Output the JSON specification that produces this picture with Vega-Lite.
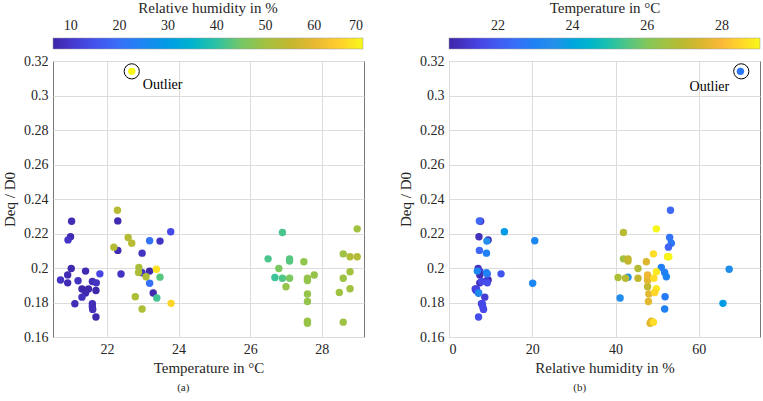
{
  "$schema": "https://vega.github.io/schema/vega-lite/v6.json",
  "padding": {"left": 2, "top": 0, "right": 1, "bottom": 2},
  "autosize": {"type": "pad"},
  "config": {
    "font": "Liberation Serif",
    "view": {"stroke": "#777777", "strokeWidth": 1},
    "axis": {"labelFont": "Liberation Serif", "labelFontSize": 14, "labelColor": "#262626", "titleFont": "Liberation Serif", "titleFontSize": 15, "titleFontWeight": "normal", "titleColor": "#262626", "grid": true, "gridColor": "#dcdcdc", "gridWidth": 1, "domain": false, "ticks": false, "labelPadding": 5, "tickCount": 20, "labelOverlap": false},
    "legend": {"labelFont": "Liberation Serif", "labelFontSize": 14, "labelColor": "#262626", "titleFont": "Liberation Serif", "titleFontSize": 15, "titleFontWeight": "normal", "titleColor": "#262626"},
    "title": {"font": "Liberation Serif", "fontSize": 11, "fontWeight": "normal", "color": "#262626"}
  },
  "datasets": {
    "pts": [
      {"T": 21.01, "RH": 7.6, "D": 0.2271},
      {"T": 22.30, "RH": 7.3, "D": 0.2273},
      {"T": 20.98, "RH": 7.2, "D": 0.2181},
      {"T": 20.91, "RH": 9.4, "D": 0.2163},
      {"T": 23.48, "RH": 9.1, "D": 0.2156},
      {"T": 23.78, "RH": 13.3, "D": 0.2210},
      {"T": 23.19, "RH": 20.6, "D": 0.2158},
      {"T": 22.30, "RH": 7.3, "D": 0.2102},
      {"T": 22.98, "RH": 9.0, "D": 0.2086},
      {"T": 21.00, "RH": 7.0, "D": 0.1997},
      {"T": 21.40, "RH": 7.4, "D": 0.1982},
      {"T": 21.80, "RH": 12.5, "D": 0.1966},
      {"T": 20.70, "RH": 9.4, "D": 0.1930},
      {"T": 20.90, "RH": 7.4, "D": 0.1960},
      {"T": 20.90, "RH": 7.4, "D": 0.1914},
      {"T": 21.19, "RH": 9.0, "D": 0.1926},
      {"T": 21.59, "RH": 7.8, "D": 0.1922},
      {"T": 21.70, "RH": 9.2, "D": 0.1914},
      {"T": 21.69, "RH": 6.5, "D": 0.1870},
      {"T": 21.30, "RH": 6.3, "D": 0.1878},
      {"T": 21.48, "RH": 6.6, "D": 0.1878},
      {"T": 21.40, "RH": 7.1, "D": 0.1855},
      {"T": 21.30, "RH": 8.6, "D": 0.1831},
      {"T": 21.10, "RH": 7.8, "D": 0.1793},
      {"T": 21.59, "RH": 8.0, "D": 0.1793},
      {"T": 21.59, "RH": 8.1, "D": 0.1775},
      {"T": 21.60, "RH": 8.3, "D": 0.1760},
      {"T": 21.69, "RH": 7.1, "D": 0.1716},
      {"T": 22.39, "RH": 9.2, "D": 0.1965},
      {"T": 22.98, "RH": 9.0, "D": 0.1972},
      {"T": 23.19, "RH": 6.8, "D": 0.1982},
      {"T": 23.19, "RH": 20.1, "D": 0.1912},
      {"T": 23.29, "RH": 7.1, "D": 0.1855},
      {"T": 22.29, "RH": 53.2, "D": 0.2335},
      {"T": 22.59, "RH": 53.0, "D": 0.2177},
      {"T": 22.69, "RH": 53.4, "D": 0.2144},
      {"T": 22.19, "RH": 52.7, "D": 0.2121},
      {"T": 22.89, "RH": 51.0, "D": 0.2003},
      {"T": 22.88, "RH": 51.8, "D": 0.1974},
      {"T": 23.09, "RH": 52.2, "D": 0.1949},
      {"T": 23.38, "RH": 67.3, "D": 0.1993},
      {"T": 23.48, "RH": 43.0, "D": 0.1947},
      {"T": 23.39, "RH": 41.1, "D": 0.1826},
      {"T": 22.79, "RH": 51.9, "D": 0.1833},
      {"T": 23.79, "RH": 65.8, "D": 0.1795},
      {"T": 22.98, "RH": 51.8, "D": 0.1762},
      {"T": 22.69, "RH": 70.0, "D": 0.3140},
      {"T": 26.90, "RH": 41.9, "D": 0.2206},
      {"T": 26.50, "RH": 41.9, "D": 0.2053},
      {"T": 27.10, "RH": 43.0, "D": 0.2053},
      {"T": 27.10, "RH": 43.0, "D": 0.2040},
      {"T": 27.50, "RH": 47.4, "D": 0.2036},
      {"T": 26.80, "RH": 45.4, "D": 0.1997},
      {"T": 26.69, "RH": 40.6, "D": 0.1945},
      {"T": 26.90, "RH": 42.4, "D": 0.1941},
      {"T": 27.10, "RH": 45.4, "D": 0.1941},
      {"T": 27.00, "RH": 47.7, "D": 0.1891},
      {"T": 27.60, "RH": 47.7, "D": 0.1941},
      {"T": 27.60, "RH": 47.7, "D": 0.1928},
      {"T": 27.79, "RH": 47.7, "D": 0.1959},
      {"T": 27.60, "RH": 48.0, "D": 0.1849},
      {"T": 27.60, "RH": 47.9, "D": 0.1806},
      {"T": 27.60, "RH": 48.6, "D": 0.1692},
      {"T": 27.60, "RH": 48.3, "D": 0.1680},
      {"T": 28.99, "RH": 49.8, "D": 0.2227},
      {"T": 28.60, "RH": 49.1, "D": 0.2082},
      {"T": 28.79, "RH": 52.5, "D": 0.2065},
      {"T": 28.99, "RH": 52.8, "D": 0.2065},
      {"T": 28.79, "RH": 49.8, "D": 0.1978},
      {"T": 28.60, "RH": 49.2, "D": 0.1941},
      {"T": 28.79, "RH": 49.8, "D": 0.1880},
      {"T": 28.49, "RH": 49.4, "D": 0.1858},
      {"T": 28.60, "RH": 49.1, "D": 0.1686}
    ],
    "ann": [
      {"panel": "a", "kind": "ring", "T": 22.69, "D": 0.3140},
      {"panel": "a", "kind": "label", "T": 23.0, "D": 0.3059, "label": "Outlier"},
      {"panel": "b", "kind": "ring", "RH": 70.2, "D": 0.3140},
      {"panel": "b", "kind": "label", "RH": 67.3, "D": 0.3052, "label": "Outlier"}
    ]
  },
  "hconcat": [
    {
      "width": 311,
      "height": 276,
      "title": {"text": "(a)", "orient": "bottom", "frame": "bounds", "anchor": "middle", "offset": 7},
      "layer": [
        {
          "data": {"name": "pts"},
          "mark": {"type": "point", "filled": true, "size": 55, "opacity": 1},
          "encoding": {
            "x": {"field": "T", "type": "quantitative", "scale": {"domain": [20.49, 29.18], "nice": false, "zero": false}, "axis": {"values": [22, 24, 26, 28], "format": "d", "title": "Temperature in °C"}},
            "y": {"field": "D", "type": "quantitative", "scale": {"domain": [0.16, 0.32], "nice": false, "zero": false}, "axis": {"values": [0.16, 0.18, 0.2, 0.22, 0.24, 0.26, 0.28, 0.3, 0.32], "format": ".2~f", "title": "Deq / D0", "titlePadding": 6}},
            "color": {
              "field": "RH", "type": "quantitative",
              "scale": {"domain": [6.37, 12.73, 19.1, 28.64, 35.64, 40.73, 46.5, 55.99, 62.36, 70.0], "range": ["#3e26a8", "#4745e6", "#3f6bf8", "#2a93e8", "#06b7c9", "#3cc39a", "#8cc652", "#c8b52c", "#fdb93a", "#f7f81a"], "clamp": true, "nice": false, "zero": false},
              "legend": {"title": "Relative humidity in %", "orient": "top", "direction": "horizontal", "gradientLength": 310, "gradientThickness": 11, "gradientStrokeColor": "#999999", "gradientStrokeWidth": 0.5, "values": [10, 20, 30, 40, 50, 60, 70], "format": "d", "labelAlign": "center", "labelOffset": -30, "titlePadding": 22, "offset": 11, "titleAnchor": "middle"}
            }
          }
        },
        {
          "data": {"name": "ann"},
          "transform": [{"filter": "datum.panel == 'a' && datum.kind == 'ring'"}],
          "mark": {"type": "point", "filled": false, "size": 230, "stroke": "#000000", "strokeWidth": 1, "opacity": 1},
          "encoding": {"x": {"field": "T", "type": "quantitative"}, "y": {"field": "D", "type": "quantitative"}}
        },
        {
          "data": {"name": "ann"},
          "transform": [{"filter": "datum.panel == 'a' && datum.kind == 'label'"}],
          "mark": {"type": "text", "align": "left", "baseline": "middle", "fontSize": 14, "font": "Liberation Serif", "color": "#000000"},
          "encoding": {"x": {"field": "T", "type": "quantitative"}, "y": {"field": "D", "type": "quantitative"}, "text": {"field": "label"}}
        }
      ]
    },
    {
      "width": 311,
      "height": 276,
      "title": {"text": "(b)", "orient": "bottom", "frame": "bounds", "anchor": "middle", "offset": 7},
      "layer": [
        {
          "data": {"name": "pts"},
          "mark": {"type": "point", "filled": true, "size": 55, "opacity": 1},
          "encoding": {
            "x": {"field": "RH", "type": "quantitative", "scale": {"domain": [0, 74.7], "nice": false, "zero": false}, "axis": {"values": [0, 20, 40, 60], "format": "d", "title": "Relative humidity in %"}},
            "y": {"field": "D", "type": "quantitative", "scale": {"domain": [0.16, 0.32], "nice": false, "zero": false}, "axis": {"values": [0.16, 0.18, 0.2, 0.22, 0.24, 0.26, 0.28, 0.3, 0.32], "format": ".2~f", "title": "Deq / D0", "titlePadding": 6}},
            "color": {
              "field": "T", "type": "quantitative",
              "scale": {"domain": [20.69, 21.52, 22.36, 23.61, 24.52, 25.19, 26.1, 27.19, 28.02, 29.02], "range": ["#3e26a8", "#4745e6", "#3f6bf8", "#2a93e8", "#06b7c9", "#3cc39a", "#8cc652", "#c8b52c", "#fdb93a", "#f7f81a"], "clamp": true, "nice": false, "zero": false},
              "legend": {"title": "Temperature in °C", "orient": "top", "direction": "horizontal", "gradientLength": 311, "gradientThickness": 11, "gradientStrokeColor": "#999999", "gradientStrokeWidth": 0.5, "values": [22, 24, 26, 28], "format": "d", "labelAlign": "center", "labelOffset": -30, "titlePadding": 22, "offset": 11, "titleAnchor": "middle"}
            }
          }
        },
        {
          "data": {"name": "ann"},
          "transform": [{"filter": "datum.panel == 'b' && datum.kind == 'ring'"}],
          "mark": {"type": "point", "filled": false, "size": 230, "stroke": "#000000", "strokeWidth": 1, "opacity": 1},
          "encoding": {"x": {"field": "RH", "type": "quantitative"}, "y": {"field": "D", "type": "quantitative"}}
        },
        {
          "data": {"name": "ann"},
          "transform": [{"filter": "datum.panel == 'b' && datum.kind == 'label'"}],
          "mark": {"type": "text", "align": "right", "baseline": "middle", "fontSize": 14, "font": "Liberation Serif", "color": "#000000"},
          "encoding": {"x": {"field": "RH", "type": "quantitative"}, "y": {"field": "D", "type": "quantitative"}, "text": {"field": "label"}}
        }
      ]
    }
  ],
  "spacing": 33,
  "resolve": {"scale": {"color": "independent"}}
}
